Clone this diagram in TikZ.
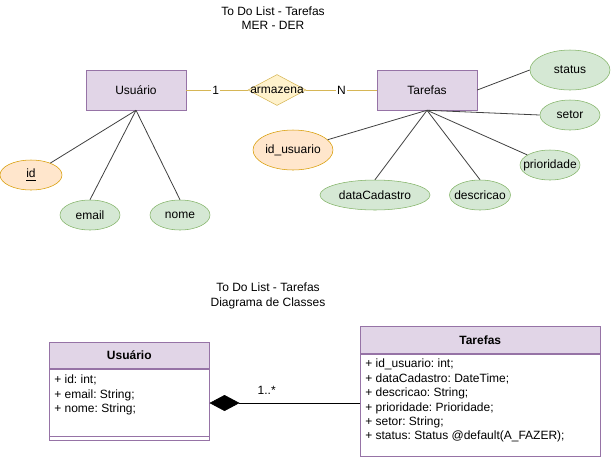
\documentclass[tikz,border=0pt]{standalone}
\usepackage{fontspec}
\setmainfont{Liberation Sans}
\usetikzlibrary{shapes.geometric, arrows.meta}
\frenchspacing

\begin{document}
\begin{tikzpicture}[x=0.75pt,y=0.75pt,yscale=-1,xscale=1,
    font=\fontsize{9}{10.8}\selectfont,
    title/.style={align=center, inner sep=0.75pt},
    entity/.style={draw={rgb, 255:red, 150; green, 115; blue, 166 }, fill={rgb, 255:red, 225; green, 213; blue, 231 }, minimum width=75pt, minimum height=30pt, inner sep=0pt},
    relation/.style={diamond, draw={rgb, 255:red, 214; green, 182; blue, 86 }, fill={rgb, 255:red, 255; green, 242; blue, 204 }, minimum width=43.5pt, minimum height=23.25pt, inner sep=0pt},
    attr/.style={ellipse, draw={rgb, 255:red, 130; green, 179; blue, 102 }, fill={rgb, 255:red, 213; green, 232; blue, 212 }, minimum width=45pt, minimum height=22.5pt, inner sep=0pt},
    keyattr/.style={ellipse, draw={rgb, 255:red, 215; green, 155; blue, 0 }, fill={rgb, 255:red, 255; green, 230; blue, 204 }, minimum width=60pt, minimum height=30pt, inner sep=0pt},
    relline/.style={draw={rgb, 255:red, 214; green, 182; blue, 86 }},
    attrline/.style={draw={rgb, 255:red, 64; green, 64; blue, 64 }, line width=0.6pt},
    cardlabel/.style={fill=white, inner sep=1pt},
    classhead/.style={anchor=north west, draw={rgb, 255:red, 150; green, 115; blue, 166 }, fill={rgb, 255:red, 225; green, 213; blue, 231 }, inner sep=0pt, font=\fontsize{9}{10.8}\selectfont\bfseries},
    classbody/.style={anchor=north west, draw={rgb, 255:red, 150; green, 115; blue, 166 }, fill=white, inner sep=0pt},
    classtext/.style={anchor=north west, align=left, inner sep=0pt},
    composition/.style={-{Diamond[length=22.5pt, width=12pt]}}
  ]
    \path[use as bounding box] (0,0) rectangle (611,458);

    % Text Node
    \node[title] (titleMer) at (273,18) {To Do List - Tarefas\\MER - DER};

    %Shape: Rectangle
    \node[entity] (usu) at (136,90) {Usuário};
    %Shape: Rectangle
    \node[entity] (tar) at (427,90) {Tarefas};
    %Shape: Diamond
    \node[relation] (arm) at (277,90) {};
    \node[inner sep=0pt] (armText) at (arm) {armazena};

    %Shape: Ellipse
    \node[keyattr, minimum width=46.5pt, minimum height=22.5pt, label={center:\underline{id}}] (id) at (31,175) {};
    \node[attr, label={center:email}] (email) at (90,215) {};
    \node[attr, label={center:nome}] (nome) at (180,215) {};
    \node[keyattr, label={center:id\_usuario}] (idusu) at (293,150) {};
    \node[attr, minimum width=60pt, minimum height=30pt, label={center:status}] (status) at (570,70) {};
    \node[attr, label={center:setor}] (setor) at (570,115) {};
    \node[attr, label={center:prioridade}] (prio) at (550,165) {};
    \node[attr, minimum width=45.75pt, label={center:descricao}] (desc) at (480,195) {};
    \node[attr, minimum width=82.5pt, label={center:dataCadastro}] (data) at (375,195) {};

    % Connectors
    \draw[relline] (usu) -- (arm) node[cardlabel, pos=0.48] {1};
    \draw[relline] (arm) -- (tar) node[cardlabel, midway] {N};
    \draw[attrline] (usu.south) -- (id);
    \draw[attrline] (usu.south) -- (email.north);
    \draw[attrline] (usu.south) -- (nome.north);
    \draw[attrline] (tar.east) -- (status.west);
    \draw[attrline] (tar.south) -- (setor.west);
    \draw[attrline] (tar.south) -- (prio);
    \draw[attrline] (tar.south) -- (desc.north);
    \draw[attrline] (tar.south) -- (data.north);
    \draw[attrline] (tar.south) -- (idusu);

    % Text Node
    \node[title] (titleClass) at (268,296) {To Do List - Tarefas\\Diagrama de Classes};

    %Shape: Class Usuario
    \node[classhead, minimum width=120pt, minimum height=19.5pt] (usuHead) at (49,342) {Usuário};
    \node[classbody, minimum width=120pt, minimum height=50.25pt] (usuBody) at (usuHead.south west) {};
    \node[classbody, minimum width=120pt, minimum height=3pt] (usuFoot) at (usuBody.south west) {};
    \node[classtext] (usuAttr) at (54,375) {+ id: int;\\+ email: String;\\+ nome: String;};

    %Shape: Class Tarefas
    \node[classhead, minimum width=180pt, minimum height=20.25pt] (tarHead) at (360,326) {Tarefas};
    \node[classbody, minimum width=180pt, minimum height=76.5pt] (tarBody) at (tarHead.south west) {};
    \node[classtext] (tarAttr) at (365,359) {+ id\_usuario: int;\\+ dataCadastro: DateTime;\\+ descricao: String;\\+ prioridade: Prioridade;\\+ setor: String;\\+ status: Status @default(A\_FAZER);};

    % Composition
    \coordinate (compY) at (0,403);
    \draw[composition] (tarBody.west |- compY) -- (usuBody.east |- compY) node[pos=0.62, yshift=9.75pt, inner sep=0pt] {1..*};

\end{tikzpicture}
\end{document}
